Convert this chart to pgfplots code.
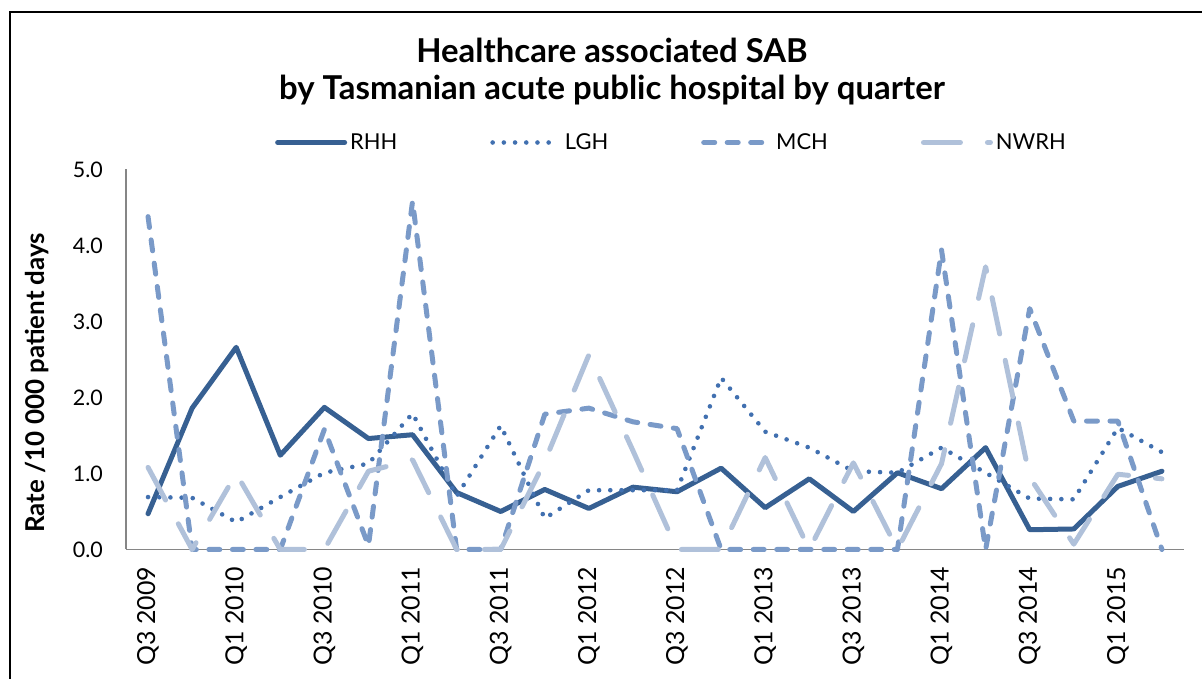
\documentclass[border=0pt]{standalone}
\usepackage{fontspec}
\setmainfont{Lato}
\usepackage{pgfplots}
\pgfplotsset{compat=1.18}
\usepackage{pgfplotstable}

\definecolor{rhh}{RGB}{55,96,146}
\definecolor{lgh}{RGB}{65,112,176}
\definecolor{mch}{RGB}{122,154,200}
\definecolor{nwrh}{RGB}{176,193,218}
\definecolor{axisgray}{RGB}{134,134,134}

\pgfplotstableread{
i RHH LGH MCH NWRH
0 0.47 0.69 4.38 1.08
1 1.86 0.68 0.00 0.00
2 2.66 0.36 0.00 1.00
3 1.24 0.69 0.00 0.00
4 1.87 1.01 1.58 0.00
5 1.46 1.13 0.05 1.03
6 1.51 1.79 4.58 1.18
7 0.75 0.70 0.00 0.00
8 0.50 1.63 0.00 0.00
9 0.79 0.41 1.78 1.16
10 0.54 0.78 1.86 2.56
11 0.82 0.78 1.68 1.30
12 0.76 0.78 1.59 0.00
13 1.07 2.26 0.00 0.00
14 0.55 1.55 0.00 1.21
15 0.93 1.34 0.00 0.00
16 0.50 1.03 0.00 1.14
17 1.01 1.01 0.00 0.00
18 0.80 1.34 3.94 1.13
19 1.34 1.01 0.00 3.72
20 0.26 0.67 3.17 0.95
21 0.27 0.66 1.69 0.07
22 0.83 1.60 1.69 0.99
23 1.03 1.28 0.00 0.93
}\data

\begin{document}
\begin{tikzpicture}[x=1bp,y=1bp]
\useasboundingbox (0,0) rectangle (1202,679);
\draw[black, line width=1.6bp] (10,-10) -- (10,667) -- (1215,667);
\begin{axis}[
  at={(126bp,129.5bp)}, anchor=south west,
  scale only axis, width=1058bp, height=380bp,
  xmin=-0.5, xmax=23.5, ymin=0, ymax=5,
  clip=false,
  axis x line*=bottom, axis y line*=left,
  axis line style={axisgray, line width=1.3bp},
  major tick length=0pt,
  xtick={0,2,...,22},
  xticklabels={Q3 2009,Q1 2010,Q3 2010,Q1 2011,Q3 2011,Q1 2012,Q3 2012,Q1 2013,Q3 2013,Q1 2014,Q3 2014,Q1 2015},
  xticklabel shift=17bp,
  xticklabel style={rotate=90, anchor=east, inner sep=0pt, font=\fontsize{25}{25}\selectfont},
  ytick={0,1,2,3,4,5},
  /pgf/number format/fixed,
  /pgf/number format/fixed zerofill,
  /pgf/number format/precision=1,
  /pgf/number format/assume math mode=true,
  yticklabel shift=23bp,
  yticklabel style={anchor=east, inner sep=0pt, font=\fontsize{21.5}{21.5}\selectfont},
  ylabel={Rate /10 000 patient days},
  every axis y label/.style={at={(axis description cs:-0.0841,0.439)}, rotate=90, anchor=center, font=\bfseries\fontsize{26}{26}\selectfont},
  legend columns=4,
  legend style={at={(axis description cs:0.1408,1.071)}, anchor=west, draw=none, fill=none, inner sep=0pt,
    font=\fontsize{22}{22}\selectfont,
    nodes={inner sep=3bp},
    /tikz/every even column/.append style={column sep=90bp}},
  legend image code/.code={\draw[#1] (0bp,0bp) -- (67bp,0bp);},
]
\addplot[rhh, line width=5bp, line cap=round, line join=round] table[x=i, y=RHH] {\data};
\addlegendentry{RHH}
\addplot[lgh, line width=4.6bp, line cap=round, line join=round, dash pattern=on 0bp off 11.2bp] table[x=i, y=LGH] {\data};
\addlegendentry{LGH}
\addplot[mch, line width=5bp, line cap=round, line join=round, dash pattern=on 11bp off 12.5bp] table[x=i, y=MCH] {\data};
\addlegendentry{MCH}
\addplot[nwrh, line width=5bp, line cap=round, line join=round, dash pattern=on 37bp off 27bp] table[x=i, y=NWRH] {\data};
\addlegendentry{NWRH}
\end{axis}
\node[anchor=base, font=\bfseries\fontsize{33}{33}\selectfont] at (612,616.3) {Healthcare associated SAB};
\node[anchor=base, font=\bfseries\fontsize{33}{33}\selectfont] at (612,579) {by Tasmanian acute public hospital by quarter};
\end{tikzpicture}
\end{document}
